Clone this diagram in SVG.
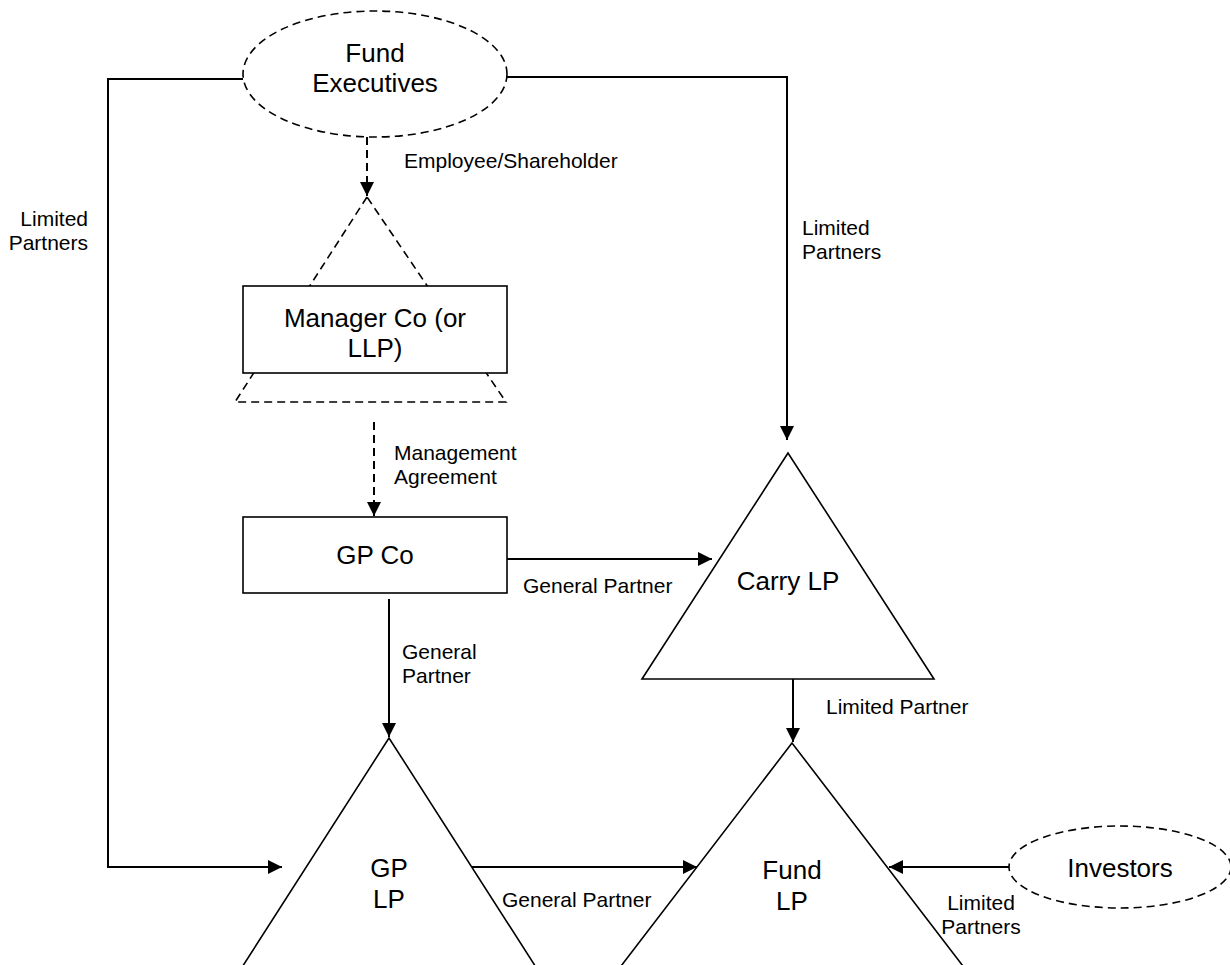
<svg xmlns="http://www.w3.org/2000/svg" width="1230" height="965" viewBox="0 0 1230 965">
<style>
  .shape{fill:#fff;stroke:#000;stroke-width:1.6}
  .dash{stroke-dasharray:8 5}
  .conn{fill:none;stroke:#000;stroke-width:2}
  .node{font-family:"Liberation Sans",Arial,sans-serif;font-size:26px;fill:#000;text-anchor:middle}
  .lbl{font-family:"Liberation Sans",Arial,sans-serif;font-size:21px;fill:#000}
</style>
<defs>
  <marker id="arr" viewBox="0 0 14 14" refX="14" refY="7" markerWidth="14" markerHeight="14" markerUnits="userSpaceOnUse" orient="auto">
    <path d="M0,0 L14,7 L0,14 Z" fill="#000"/>
  </marker>
</defs>
<rect width="1230" height="965" fill="#fff"/>

<g id="fund-executives">
  <ellipse class="shape dash" cx="375" cy="74" rx="132" ry="63"/>
  <text class="node" x="375" y="62">Fund</text>
  <text class="node" x="375" y="92">Executives</text>
</g>

<g id="manager-co">
  <polygon class="shape dash" points="367,197 235,402 506,402" fill="none"/>
  <rect class="shape" x="243" y="286" width="264" height="87"/>
  <text class="node" x="375" y="327">Manager Co (or</text>
  <text class="node" x="375" y="357">LLP)</text>
</g>

<g id="gp-co">
  <rect class="shape" x="243" y="517" width="264" height="76"/>
  <text class="node" x="375" y="564">GP Co</text>
</g>

<g id="carry-lp">
  <polygon class="shape" points="788,453 642,679 934,679"/>
  <text class="node" x="788" y="590">Carry LP</text>
</g>

<g id="gp-lp">
  <polygon class="shape" points="389,738 221,1000 557,1000"/>
  <text class="node" x="389" y="877">GP</text>
  <text class="node" x="389" y="908">LP</text>
</g>

<g id="fund-lp">
  <polygon class="shape" points="792,743 595,1000 989,1000"/>
  <text class="node" x="792" y="879">Fund</text>
  <text class="node" x="792" y="910">LP</text>
</g>

<g id="investors">
  <ellipse class="shape dash" cx="1120" cy="867" rx="111" ry="41"/>
  <text class="node" x="1120" y="877">Investors</text>
</g>

<g id="connectors">
  <polyline class="conn dash" points="367,137 367,196" marker-end="url(#arr)"/>
  <polyline class="conn dash" points="374,422 374,516" marker-end="url(#arr)"/>
  <polyline class="conn" points="243,79 108,79 108,867 282,867" marker-end="url(#arr)"/>
  <polyline class="conn" points="507,77 787,77 787,440" marker-end="url(#arr)"/>
  <polyline class="conn" points="507,559 712,559" marker-end="url(#arr)"/>
  <polyline class="conn" points="389,599 389,737" marker-end="url(#arr)"/>
  <polyline class="conn" points="793,679 793,742" marker-end="url(#arr)"/>
  <polyline class="conn" points="472,867 697,867" marker-end="url(#arr)"/>
  <polyline class="conn" points="1009,867 889,867" marker-end="url(#arr)"/>

  <text class="lbl" x="404" y="168">Employee/Shareholder</text>
  <text class="lbl" x="88" y="226" text-anchor="end">Limited</text>
  <text class="lbl" x="88" y="250" text-anchor="end">Partners</text>
  <text class="lbl" x="802" y="235">Limited</text>
  <text class="lbl" x="802" y="259">Partners</text>
  <text class="lbl" x="394" y="460">Management</text>
  <text class="lbl" x="394" y="484">Agreement</text>
  <text class="lbl" x="523" y="593">General Partner</text>
  <text class="lbl" x="402" y="659">General</text>
  <text class="lbl" x="402" y="683">Partner</text>
  <text class="lbl" x="826" y="714">Limited Partner</text>
  <text class="lbl" x="502" y="907">General Partner</text>
  <text class="lbl" x="981" y="910" text-anchor="middle">Limited</text>
  <text class="lbl" x="981" y="934" text-anchor="middle">Partners</text>
</g>
</svg>
